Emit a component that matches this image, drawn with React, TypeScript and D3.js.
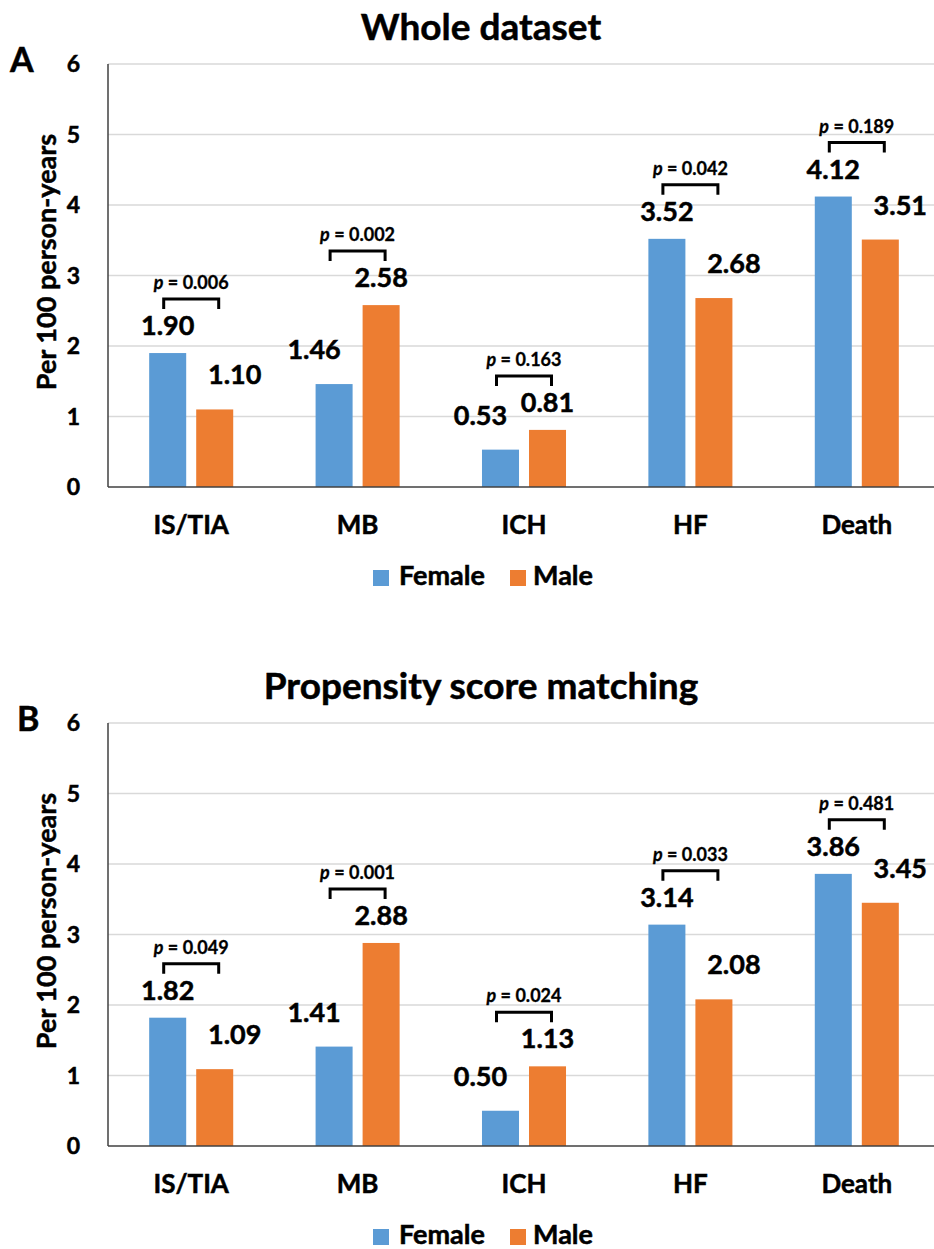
import React from 'react';
import * as d3 from 'd3';

const categories = ['IS/TIA', 'MB', 'ICH', 'HF', 'Death'];
const series = ['Female', 'Male'];
const yTicks = [0, 1, 2, 3, 4, 5, 6];

const wholeFemale = [1.9, 1.46, 0.53, 3.52, 4.12];
const wholeMale = [1.1, 2.58, 0.81, 2.68, 3.51];
const wholeP = ['0.006', '0.002', '0.163', '0.042', '0.189'];

const psmFemale = [1.82, 1.41, 0.5, 3.14, 3.86];
const psmMale = [1.09, 2.88, 1.13, 2.08, 3.45];
const psmP = ['0.049', '0.001', '0.024', '0.033', '0.481'];

const colors = { Female: '#5B9BD5', Male: '#ED7D31' };

// shared text look: bold, slightly thickened
const txt = {
  fontFamily: "Lato, 'Open Sans', sans-serif",
  fontWeight: 'bold',
  fill: '#000',
  stroke: '#000',
  strokeWidth: 0.5,
};

type PanelProps = {
  top: number;
  letter: string;
  letterX: number;
  title: string;
  female: number[];
  male: number[];
  pvals: string[];
};

const Panel = ({ top, letter, letterX, title, female, male, pvals }: PanelProps) => {
  const left = 108;
  const right = 940;
  const y0 = top + 487;
  const y6 = top + 64;

  const y = d3.scaleLinear().domain([0, 6]).range([y0, y6]);
  const x0 = d3
    .scaleBand()
    .domain(categories)
    .range([left, right])
    .paddingInner(0.495)
    .paddingOuter(0.2475);
  const x1 = d3
    .scaleBand()
    .domain(series)
    .range([0, x0.bandwidth()])
    .paddingInner(0.2128);

  return (
    <g>
      <text {...txt} x={481} y={top + 40} textAnchor="middle" fontSize={37}>
        {title}
      </text>
      <text {...txt} x={letterX} y={top + 72} fontSize={34}>
        {letter}
      </text>

      {yTicks.map(t => (
        <g key={t}>
          {t > 0 && (
            <line x1={left} x2={right} y1={y(t)} y2={y(t)} stroke="#D9D9D9" strokeWidth={1.5} />
          )}
          <text {...txt} x={80} y={y(t)} dy="0.36em" textAnchor="end" fontSize={23}>
            {t}
          </text>
        </g>
      ))}

      <text {...txt} transform={`translate(56, ${top + 262}) rotate(-90)`} textAnchor="middle" fontSize={27}>
        Per 100 person-years
      </text>

      {categories.map((c, i) => {
        const vals = [female[i], male[i]];
        const gx = x0(c)!;
        const maxV = Math.max(...vals);
        const tallIdx = vals[0] >= vals[1] ? 0 : 1;
        const cx = gx + x0.bandwidth() / 2;
        const bTop = y(maxV) - 54;
        return (
          <g key={c}>
            {series.map((s, j) => {
              const bx = gx + x1(s)!;
              const bw = x1.bandwidth();
              const isTall = j === tallIdx;
              const shift = isTall ? 0 : j === 0 ? -20 : 20;
              return (
                <g key={s}>
                  <rect x={bx} y={y(vals[j])} width={bw} height={y0 - y(vals[j])} fill={colors[s]} />
                  <text
                    {...txt}
                    x={bx + bw / 2 + shift}
                    y={y(vals[j]) - (isTall ? 18 : 25)}
                    textAnchor="middle"
                    fontSize={27}
                  >
                    {vals[j].toFixed(2)}
                  </text>
                </g>
              );
            })}
            <path
              d={`M${cx - 27.5},${bTop + 10}V${bTop}H${cx + 27.5}V${bTop + 10}`}
              fill="none"
              stroke="#000"
              strokeWidth={3}
            />
            <text {...txt} x={cx} y={bTop - 10} textAnchor="middle" fontSize={18} strokeWidth={0.3}>
              <tspan fontStyle="italic">p</tspan> = {pvals[i]}
            </text>
            <text {...txt} x={cx} y={top + 534} textAnchor="middle" fontSize={26}>
              {c}
            </text>
          </g>
        );
      })}

      <line x1={left} x2={left} y1={y6} y2={y0} stroke="#404040" strokeWidth={1.5} />
      <line x1={left} x2={right} y1={y0} y2={y0} stroke="#404040" strokeWidth={1.5} />

      <rect x={373} y={top + 570} width={16} height={16} fill={colors.Female} />
      <text {...txt} x={399} y={top + 585} fontSize={27}>
        Female
      </text>
      <rect x={510} y={top + 570} width={16} height={16} fill={colors.Male} />
      <text {...txt} x={533} y={top + 585} fontSize={27}>
        Male
      </text>
    </g>
  );
};

export default function App() {
  return (
    <svg width={934} height={1249} style={{ position: 'absolute', left: 0, top: 0, background: '#fff' }}>
      <Panel top={0} letter="A" letterX={10} title="Whole dataset" female={wholeFemale} male={wholeMale} pvals={wholeP} />
      <Panel
        top={659}
        letter="B"
        letterX={17}
        title="Propensity score matching"
        female={psmFemale}
        male={psmMale}
        pvals={psmP}
      />
    </svg>
  );
}
